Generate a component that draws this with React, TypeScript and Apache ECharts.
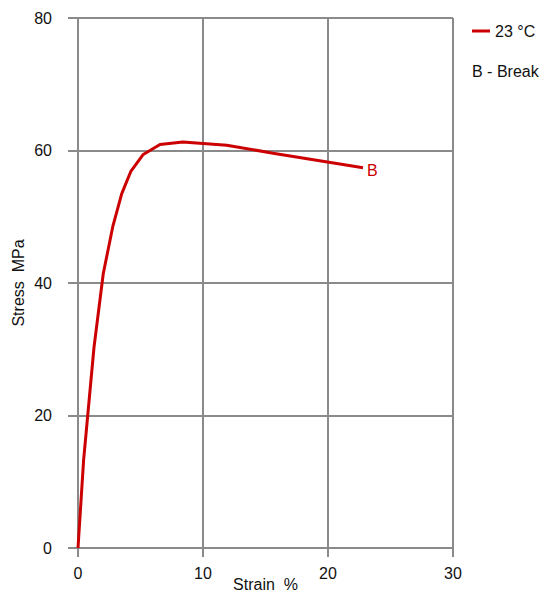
import React, { useEffect, useRef } from "react";
import * as echarts from "echarts";

const seriesName = "23 °C";
const strain = [0, 0.45, 1.28, 2.02, 2.78, 3.5, 4.24, 5.22, 6.56, 8.38, 11.9, 15.6, 20.2, 22.8];
const stress = [0, 13.3, 30.3, 41.4, 48.5, 53.5, 56.9, 59.4, 60.9, 61.3, 60.8, 59.6, 58.2, 57.4];
const breakLabel = "B";
const noteText = "B - Break";
const xName = "Strain  %";
const yName = "Stress  MPa";

const FONT = "Liberation Sans, Arial, Helvetica, sans-serif";
const GRID = "#8a8a8a";
const RED = "#cc0000";
const FS = 16;

export default function App() {
  const ref = useRef<HTMLDivElement>(null);
  useEffect(() => {
    if (!ref.current) return;
    const chart = echarts.init(ref.current, undefined, { renderer: "svg" });
    const data = strain.map((x, i) => [x, stress[i]]);
    chart.setOption({
      animation: false,
      textStyle: { fontFamily: FONT },
      grid: { left: 78, right: 91, top: 18, bottom: 45, containLabel: false, outerBoundsMode: "none" },
      legend: {
        show: true,
        left: 467,
        top: 18,
        orient: "vertical",
        itemWidth: 18,
        itemHeight: 3,
        icon: "rect",
        itemGap: 8,
        textStyle: { fontSize: FS, color: "#111", fontFamily: FONT },
        data: [{ name: seriesName, icon: "rect" }],
      },
      graphic: [
        {
          type: "text",
          left: 472,
          top: 63,
          style: { text: noteText, fontSize: FS, fill: "#111", fontFamily: FONT },
        },
      ],
      xAxis: {
        type: "value",
        min: 0,
        max: 30,
        interval: 10,
        name: xName,
        nameLocation: "middle",
        nameGap: 28,
        nameMoveOverlap: false,
        nameTextStyle: { fontSize: FS, color: "#111", fontFamily: FONT },
        axisLine: { show: true, lineStyle: { color: GRID, width: 2 } },
        axisTick: { show: true, length: 9, lineStyle: { color: GRID, width: 2 } },
        axisLabel: { fontSize: FS, color: "#111", margin: 17, fontFamily: FONT },
        splitLine: { show: true, lineStyle: { color: GRID, width: 2 } },
      },
      yAxis: {
        type: "value",
        min: 0,
        max: 80,
        interval: 20,
        name: yName,
        nameLocation: "middle",
        nameGap: 52,
        nameMoveOverlap: false,
        nameTextStyle: { fontSize: FS, color: "#111", fontFamily: FONT },
        axisLine: { show: true, lineStyle: { color: GRID, width: 2 } },
        axisTick: { show: true, length: 10, lineStyle: { color: GRID, width: 2 } },
        axisLabel: { fontSize: FS, color: "#111", margin: 26, fontFamily: FONT },
        splitLine: { show: true, lineStyle: { color: GRID, width: 2 } },
      },
      series: [
        {
          name: seriesName,
          type: "line",
          data,
          showSymbol: false,
          symbol: "none",
          lineStyle: { color: RED, width: 3 },
          itemStyle: { color: RED },
          clip: false,
          endLabel: {
            show: true,
            formatter: breakLabel,
            color: RED,
            fontSize: FS,
            fontFamily: FONT,
            distance: 4,
            offset: [0, 3],
          },
        },
      ],
    });
    return () => chart.dispose();
  }, []);
  return (
    <div
      ref={ref}
      style={{ position: "fixed", left: 0, top: 0, width: 544, height: 593, background: "#fff" }}
    />
  );
}
